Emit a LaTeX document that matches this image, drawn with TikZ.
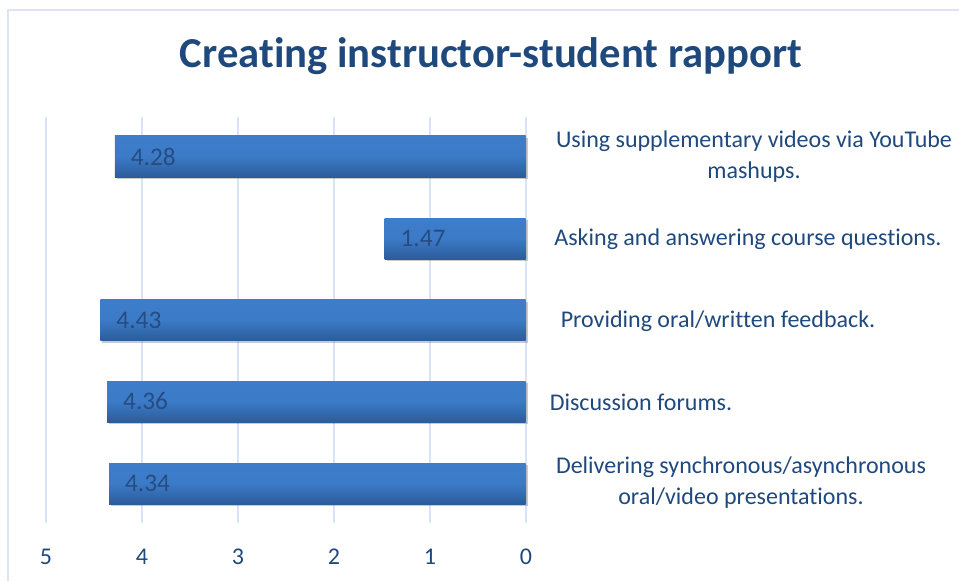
\documentclass[tikz,border=0pt]{standalone}
\usepackage{fontspec}
\setmainfont[Ligatures=NoCommon]{Carlito}
\usetikzlibrary{shadows}
\definecolor{txtblue}{RGB}{31,73,125}
\definecolor{titleblue}{RGB}{31,73,125}
\definecolor{gridblue}{RGB}{217,228,245}
\definecolor{frameblue}{RGB}{220,230,242}
\definecolor{bartop}{RGB}{61,125,202}
\definecolor{barbot}{RGB}{44,92,155}
\definecolor{valblue}{RGB}{38,76,130}
\tikzset{
  barbox/.style={draw=none, top color=bartop, bottom color=barbot, middle color=bartop!92!barbot,
    minimum height=30.75pt, inner sep=0pt, anchor=east,
    drop shadow={shadow xshift=1.5pt, shadow yshift=-1.8pt, opacity=0.35, fill=black!60}},
  vlab/.style={text=valblue, font=\fontsize{19pt}{22pt}\selectfont, anchor=west, inner sep=0pt},
  clab/.style={text=txtblue, font=\fontsize{18pt}{23.2pt}\selectfont, align=center, inner sep=0pt},
  tick/.style={text=txtblue, font=\fontsize{18pt}{20pt}\selectfont, inner sep=0pt},
  gridl/.style={draw=gridblue, line width=1.5pt}
}
\begin{document}
\begin{tikzpicture}[x=0.75pt,y=-0.75pt]
\useasboundingbox (0,0) rectangle (959,581);
% frame
\draw[frameblue, line width=1.2pt] (8,590) -- (8,10) -- (970,10);
% title
\node[text=titleblue, font=\fontsize{32pt}{36pt}\selectfont\bfseries, inner sep=0pt] (title) at (491,56) {Creating instructor-student rapport};
% grid
\foreach \v/\x in {5/46,4/142,3/238,2/334,1/430,0/526}{
  \coordinate (gt\v) at (\x,117);
  \coordinate (gb\v) at (\x,523);
  \draw[gridl] (gt\v) -- (gb\v);
  \node[tick] (t\v) at (\x,557) {\v};
}
% bars
\node[barbox, minimum width=4.28*72pt] (b1) at (526,156.5) {};
\node[barbox, minimum width=1.47*72pt] (b2) at (526,238.5) {};
\node[barbox, minimum width=4.43*72pt] (b3) at (526,320) {};
\node[barbox, minimum width=4.36*72pt] (b4) at (526,401.5) {};
\node[barbox, minimum width=4.34*72pt] (b5) at (526,483.5) {};
\node[vlab] (v1) at ([xshift=12pt]b1.west) {4.28};
\node[vlab] (v2) at ([xshift=12pt]b2.west) {1.47};
\node[vlab] (v3) at ([xshift=12pt]b3.west) {4.43};
\node[vlab] (v4) at ([xshift=12pt]b4.west) {4.36};
\node[vlab] (v5) at ([xshift=12pt]b5.west) {4.34};
% category labels
\node[clab] (c1) at (754,157) {Using supplementary videos via YouTube\\mashups.};
\node[clab] (c2) at (748,239) {Asking and answering course questions.};
\node[clab] (c3) at (718,321) {Providing oral/written feedback.};
\node[clab] (c4) at (641,402) {Discussion forums.};
\node[clab] (c5) at (741,483) {Delivering synchronous/asynchronous\\oral/video presentations.};
\end{tikzpicture}
\end{document}
